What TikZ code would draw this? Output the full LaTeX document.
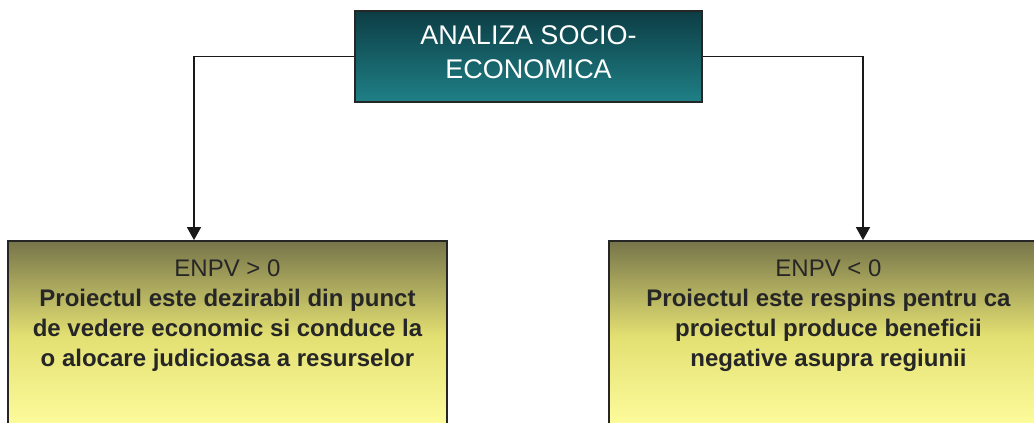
\documentclass[tikz,border=0pt]{standalone}
\usepackage{fontspec}
\setmainfont{Liberation Sans}
\usetikzlibrary{arrows.meta,positioning}
\definecolor{tealtop}{HTML}{0D3D45}
\definecolor{tealbot}{HTML}{1F8086}
\definecolor{olivetop}{HTML}{77754A}
\definecolor{olivemid}{HTML}{E2DF72}
\definecolor{olivebot}{HTML}{FFFE9E}
\definecolor{inkgray}{HTML}{262626}

\begin{document}
\begin{tikzpicture}[x=1pt,y=-1pt,>={Triangle[width=14pt,length=13pt]},
  headbox/.style={draw=black!85,line width=1.8pt,top color=tealtop,bottom color=tealbot,
    minimum width=347pt,minimum height=91pt,inner sep=0pt},
  headtext/.style={text=white,align=center,inner sep=0pt,
    font=\fontsize{27}{34}\selectfont},
  casebox/.style={draw=black!85,line width=1.8pt,top color=olivetop,bottom color=olivebot,
    middle color=olivemid,minimum width=439pt,minimum height=189pt,inner sep=0pt},
  casetext/.style={text=inkgray,align=center,inner sep=0pt,
    font=\bfseries\fontsize{24}{30}\selectfont},
  link/.style={->,line width=1.5pt,black!90}]
  \useasboundingbox (0,0) rectangle (1034,423);
  \fill[white] (0,0) rectangle (1034,423);
  \clip (0,0) rectangle (1034,423);

  \node[headbox] (head) at (528.5,56.5) {};
  \node[headtext] (headlbl) at ([yshift=4pt]head.center) {ANALIZA SOCIO-\\ECONOMICA};
  \node[casebox] (pos) at (227.5,335.5) {};
  \node[casebox] (neg) at (828.5,335.5) {};

  \node[casetext,below=19pt of pos.north] (postext) {\mdseries ENPV > 0\\Proiectul este dezirabil din punct\\de vedere economic si conduce la\\o alocare judicioasa a resurselor};
  \node[casetext,below=19pt of neg.north] (negtext) {\mdseries ENPV < 0\\Proiectul este respins pentru ca\\proiectul produce beneficii\\negative asupra regiunii};

  \coordinate (ldrop) at (194,0);
  \coordinate (rdrop) at (863,0);
  \draw[link] (head.west) -| (ldrop |- pos.north);
  \draw[link] (head.east) -| (rdrop |- neg.north);
\end{tikzpicture}
\end{document}
